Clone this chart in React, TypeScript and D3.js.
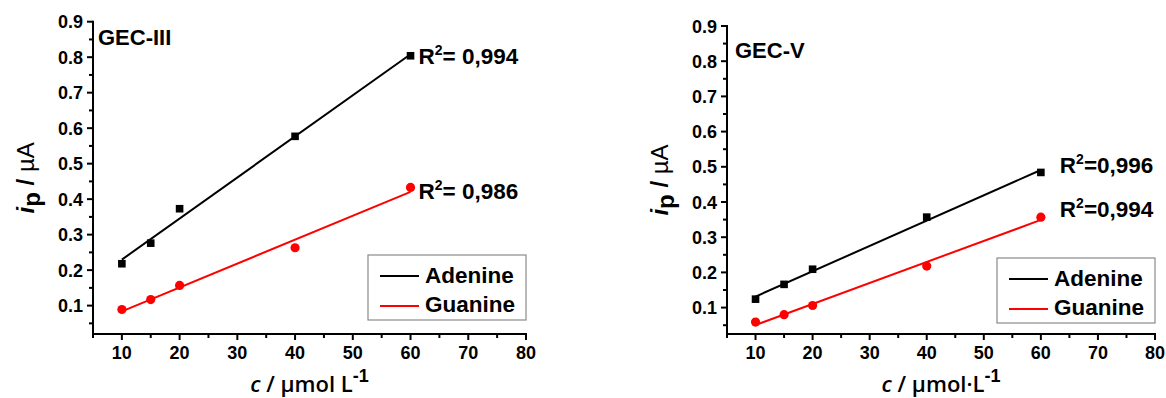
import React from "react";
import * as d3 from "d3";

// Concentrations (µmol L-1) shared by both electrodes
const concentrations = [10, 15, 20, 40, 60];

// Peak currents (µA), GEC-III electrode
const adenineIII = [0.218, 0.276, 0.373, 0.577, 0.804];
const guanineIII = [0.089, 0.117, 0.157, 0.263, 0.433];

// Peak currents (µA), GEC-V electrode
const adenineV = [0.124, 0.166, 0.209, 0.357, 0.484];
const guanineV = [0.059, 0.080, 0.106, 0.218, 0.357];

// Coefficients of determination
const r2III = ["0,994", "0,986"];
const r2V = ["0,996", "0,994"];

const panelNames = ["GEC-III", "GEC-V"];
const seriesNames = ["Adenine", "Guanine"];
const seriesColors = ["#000000", "#ff0000"];

const xMajorTicks = [10, 20, 30, 40, 50, 60, 70, 80];
const xMinorTicks = [5, 15, 25, 35, 45, 55, 65, 75];
const yMajorTicks = [0.1, 0.2, 0.3, 0.4, 0.5, 0.6, 0.7, 0.8, 0.9];
const yMinorTicks = [0.05, 0.15, 0.25, 0.35, 0.45, 0.55, 0.65, 0.75, 0.85];

const FONT = "'Liberation Sans', Arial, sans-serif";

type PanelProps = {
  name: string;
  series: number[][];
  r2: string[];
  xRange: [number, number];
  yRange: [number, number];
  yDomain: [number, number];
  r2Offsets: [number, number][];
  r2Gap: string;
  titleX: number;
  titleY: number;
  legendTop: number;
  xUnit: string;
};

// least-squares straight line through the measured points
function fit(xs: number[], ys: number[]) {
  const mx = d3.mean(xs) as number;
  const my = d3.mean(ys) as number;
  let sxy = 0;
  let sxx = 0;
  xs.forEach((x, i) => {
    sxy += (x - mx) * (ys[i] - my);
    sxx += (x - mx) * (x - mx);
  });
  const slope = sxy / sxx;
  const intercept = my - slope * mx;
  return (x: number) => intercept + slope * x;
}

function Panel(p: PanelProps) {
  const x = d3.scaleLinear().domain([5, 80]).range(p.xRange);
  const y = d3.scaleLinear().domain(p.yDomain).range(p.yRange);
  const x0 = p.xRange[0];
  const yBase = p.yRange[0];

  const legendW = 158;
  const legendX = p.xRange[1] - legendW;
  const legendY = p.legendTop;

  const xMin = d3.min(concentrations) as number;
  const xMax = d3.max(concentrations) as number;

  return (
    <g>
      {/* fitted lines and measured points */}
      {p.series.map((vals, si) => {
        const f = fit(concentrations, vals);
        const path = d3
          .line<number>()
          .x((c) => x(c))
          .y((c) => y(f(c)))([xMin, xMax]);
        return (
          <g key={si}>
            <path d={path || ""} stroke={seriesColors[si]} strokeWidth={2} fill="none" />
            {vals.map((v, i) =>
              si === 0 ? (
                <rect
                  key={i}
                  x={x(concentrations[i]) - 3.8}
                  y={y(v) - 3.8}
                  width={7.6}
                  height={7.6}
                  fill={seriesColors[si]}
                />
              ) : (
                <circle key={i} cx={x(concentrations[i])} cy={y(v)} r={4.6} fill={seriesColors[si]} />
              )
            )}
          </g>
        );
      })}

      {/* axes */}
      <line x1={x0} x2={x0} y1={yBase + 1} y2={y(0.9) - 1} stroke="#000" strokeWidth={2} />
      <line x1={x0 - 1} x2={p.xRange[1] + 1} y1={yBase} y2={yBase} stroke="#000" strokeWidth={2} />
      {xMajorTicks.map((t) => (
        <g key={"xM" + t}>
          <line x1={x(t)} x2={x(t)} y1={yBase} y2={yBase + 6} stroke="#000" strokeWidth={2} />
          <text
            x={x(t)}
            y={359}
            textAnchor="middle"
            fontFamily={FONT}
            fontWeight="bold"
            fontSize={18}
          >
            {t}
          </text>
        </g>
      ))}
      {xMinorTicks.map((t) => (
        <line key={"xm" + t} x1={x(t)} x2={x(t)} y1={yBase} y2={yBase + 4} stroke="#000" strokeWidth={2} />
      ))}
      {yMajorTicks.map((t) => (
        <g key={"yM" + t}>
          <line x1={x0 - 6} x2={x0} y1={y(t)} y2={y(t)} stroke="#000" strokeWidth={2} />
          <text
            x={x0 - 10}
            y={y(t) + 6.5}
            textAnchor="end"
            fontFamily={FONT}
            fontWeight="bold"
            fontSize={18}
          >
            {t.toFixed(1)}
          </text>
        </g>
      ))}
      {yMinorTicks.map((t) => (
        <line key={"ym" + t} x1={x0 - 4} x2={x0} y1={y(t)} y2={y(t)} stroke="#000" strokeWidth={2} />
      ))}

      {/* panel name */}
      <text x={p.titleX} y={p.titleY} fontFamily={FONT} fontWeight="bold" fontSize={22}>
        {p.name}
      </text>

      {/* R² labels */}
      {p.series.map((vals, si) => (
        <text
          key={"r2" + si}
          x={x(60) + p.r2Offsets[si][0]}
          y={y(vals[vals.length - 1]) + p.r2Offsets[si][1]}
          fontFamily={FONT}
          fontWeight="bold"
          fontSize={22.5}
        >
          R
          <tspan fontSize={14} dy={-9}>
            2
          </tspan>
          <tspan dy={9}>{"=" + p.r2Gap + p.r2[si]}</tspan>
        </text>
      ))}

      {/* legend */}
      <rect
        x={legendX}
        y={legendY}
        width={legendW}
        height={65}
        fill="#fff"
        stroke="#8a8a8a"
        strokeWidth={1.2}
      />
      {seriesNames.map((s, i) => (
        <g key={s}>
          <line
            x1={legendX + 12}
            x2={legendX + 51}
            y1={legendY + 21 + i * 30}
            y2={legendY + 21 + i * 30}
            stroke={seriesColors[i]}
            strokeWidth={2}
          />
          <text
            x={legendX + 57}
            y={legendY + 28 + i * 29}
            fontFamily={FONT}
            fontWeight="bold"
            fontSize={22.5}
          >
            {s}
          </text>
        </g>
      ))}

      {/* axis titles */}
      <text
        x={(p.xRange[0] + p.xRange[1]) / 2}
        y={392}
        textAnchor="middle"
        fontFamily="'Open Sans', sans-serif"
        fontWeight={600}
        fontSize={22}
      >
        <tspan fontStyle="italic">c</tspan>
        <tspan>{" / µmol" + p.xUnit + "L"}</tspan>
        <tspan dy={-10} fontSize={18} fontWeight="bold" fontFamily={FONT}>
          -1
        </tspan>
      </text>
      <text
        transform={`translate(${x0 - 59},${(p.yRange[0] + p.yRange[1]) / 2}) rotate(-90)`}
        textAnchor="middle"
        fontFamily={FONT}
        fontSize={24}
      >
        <tspan fontStyle="italic" fontWeight="bold">
          i
        </tspan>
        <tspan fontWeight="bold" dy={6}>
          p
        </tspan>
        <tspan dy={-6} fontWeight="bold">
          {" / "}
        </tspan>
        <tspan>µA</tspan>
      </text>
    </g>
  );
}

export default function App() {
  return (
    <svg
      width={1166}
      height={398}
      style={{ position: "absolute", left: 0, top: 0, background: "#fff" }}
    >
      <rect width={1166} height={398} fill="#fff" />
      <Panel
        name={panelNames[0]}
        series={[adenineIII, guanineIII]}
        r2={r2III}
        xRange={[93, 526]}
        yRange={[334, 21.7]}
        yDomain={[0.02, 0.9]}
        r2Offsets={[
          [8, 8],
          [8, 12],
        ]}
        r2Gap=" "
        titleX={98}
        titleY={45}
        legendTop={255}
        xUnit=" "
      />
      <Panel
        name={panelNames[1]}
        series={[adenineV, guanineV]}
        r2={r2V}
        xRange={[727, 1155]}
        yRange={[334, 26]}
        yDomain={[0.025, 0.9]}
        r2Offsets={[
          [19, 1],
          [19, 0],
        ]}
        r2Gap=""
        titleX={735}
        titleY={58}
        legendTop={258}
        xUnit="·"
      />
    </svg>
  );
}
